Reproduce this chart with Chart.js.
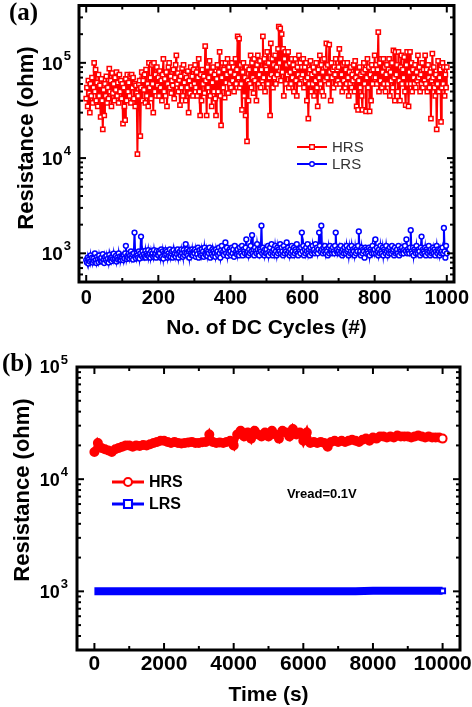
<!DOCTYPE html>
<html>
<head>
<meta charset="utf-8">
<script src="https://cdn.jsdelivr.net/npm/chart.js@4"></script>
<style>
body { margin: 0; background: #fff; }
.panel { position: absolute; left: 0; width: 472px; }
</style>
</head>
<body>
<div class="panel" style="top:0;height:340px"><canvas id="chartA" width="472" height="340"></canvas></div>
<div class="panel" style="top:340px;height:367px"><canvas id="chartB" width="472" height="367"></canvas></div>
<script>
// (a) DC cycling, one reading every 2 cycles
var cycleStep = 2;
// HRS in kOhm
var hrsCycles = [
  42,55,35,65,48,30,60,45,70,38, 55,100,50,85,40,62,35,75,45,58,
  27,68,40,20,52,28,60,45,72,38, 55,42,87,50,65,35,78,48,60,40,
  70,52,80,45,62,38,75,50,65,42,
  60,23,55,35,25,68,40,75,50,62, 45,72,38,75,55,70,42,60,35,58,
  48,11,45,60,65,17,55,80,40,65, 52,75,38,85,45,60,35,100,55,70,
  42,95,60,30,100,50,75,45,90,58,
  70,45,82,55,65,40,75,110,50,68, 45,80,35,60,90,100,55,72,48,65,
  58,85,42,70,95,120,60,78,50,66, 36,72,55,88,45,95,62,75,40,70,
  55,82,30,65,48,90,58,72,45,85,
  60,95,55,80,45,70,110,50,28,75, 40,85,60,72,48,150,65,28,90,55,
  70,105,45,80,35,62,90,50,75,42, 28,68,95,50,80,130,45,22,70,100,
  55,85,43,100,62,75,110,48,90,60,
  80,55,100,65,90,50,75,110,60,85, 190,70,180,55,95,60,32,80,100,45,
  70,28,90,15,65,40,85,60,120,55, 100,70,48,110,65,85,40,95,120,60,
  75,105,55,85,65,190,70,110,50,90,
  85,130,60,100,70,28,160,75,110,55, 95,70,120,60,90,75,140,240,100,230,
  65,200,80,140,45,110,130,60,95,75, 130,55,100,80,60,110,70,95,50,85,
  110,65,45,90,75,120,60,100,70,90,
  75,110,55,90,65,100,40,70,26,60, 85,105,50,75,60,90,45,80,65,100,
  55,35,85,70,120,60,95,50,80,45, 110,65,90,160,70,95,60,155,80,40,
  100,70,85,55,90,75,110,60,85,65,
  90,140,60,110,75,50,95,65,100,55, 85,60,100,70,45,80,60,90,55,75,
  65,95,50,105,70,35,80,32,65,90, 55,75,45,32,80,100,60,85,31,70,
  110,55,90,31,75,40,95,60,85,70,
  120,70,95,60,85,210,50,100,65,110, 55,80,110,60,90,50,75,95,60,85,
  110,45,80,65,100,55,135,70,40,130, 75,95,50,130,65,40,90,120,60,85,
  70,115,50,36,95,130,60,35,80,130,
  60,100,50,85,70,60,95,55,80,65, 120,70,90,50,75,60,100,55,85,65,
  120,60,85,50,95,70,55,80,26,65, 125,70,90,55,45,75,20,60,105,50,
  70,85,24,55,100,60,90,45,75,55,90
];
// LRS in ohm
var lrsCycles = [
  850,800,900,780,870,820,950,840,900,800, 880,830,1000,850,790,920,860,810,950,870,
  830,900,820,980,860,790,910,850,940,820, 880,800,960,860,900,830,920,870,990,850,
  880,940,820,900,860,1000,870,930,850,910,
  900,850,960,880,1000,1200,870,940,900,1000, 880,950,1050,900,980,860,1000,1650,920,880,
  1000,950,900,1050,880,1000,1500,940,1050,900, 980,920,1060,900,1000,950,1080,930,1000,900,
  1050,960,1000,920,1080,950,1000,900,1060,970,
  950,1050,1000,900,1100,920,1050,880,1000,960, 1080,980,1050,900,1000,940,1100,920,1000,1050,
  900,1080,960,1000,920,1050,980,1100,900,1000, 1050,950,1100,1000,920,1080,960,1020,1250,1000,
  1100,950,1050,900,1080,1000,960,1100,950,1050,
  1000,1100,920,1050,980,1150,900,1080,1000,950, 1100,980,1050,920,1150,1000,960,1080,940,1050,
  1000,1150,900,1050,980,1100,940,1060,1000,920, 1100,1000,1050,950,1150,1000,900,1080,1200,1000,
  1050,960,1100,1300,1000,1150,940,1050,1000,1100,
  1050,950,1150,1000,1100,920,1200,1000,1050,980, 1100,1000,950,1150,1050,1000,1200,950,1100,1050,
  1000,1150,1400,1000,1050,950,1100,1000,1200,1050, 1550,1000,1100,950,1150,1050,1000,1250,1100,1000,
  950,1100,1050,1950,1000,1150,1050,950,1100,1000,
  1100,1000,1200,950,1050,1150,1000,1250,1050,950, 1100,1000,1200,1050,950,1150,1000,1100,1050,1250,
  1000,1150,1050,950,1200,1000,1100,1050,1300,1000, 1150,1050,950,1100,1000,1200,1050,950,1150,1000,
  1100,1050,1250,1000,950,1100,1050,1000,1150,1650,
  1050,1200,950,1100,1000,1150,1050,1250,1000,1100, 950,1150,1050,1000,1200,1050,1100,1000,1250,1050,
  1150,1000,1100,1650,1200,1050,1950,1100,1000,1150, 1050,1200,1000,1100,1050,950,1150,1000,1200,1050,
  1100,1000,1150,1050,1000,1200,1650,1050,1100,1000,
  1050,1150,1000,1200,1050,950,1100,1000,1150,1050, 1000,1200,1050,1100,950,1150,1000,1050,1200,1000,
  1100,1050,950,1150,1000,1100,1050,1200,1700,1000, 1050,950,1150,1000,1100,1050,900,1150,1000,1100,
  1050,1000,1150,950,1100,1050,1000,1200,1050,1000,
  1100,1400,1000,1150,1050,950,1100,1000,1200,1050, 1000,1150,950,1100,1050,1000,1200,1050,950,1100,
  1000,1150,1050,1000,1200,1050,1100,950,1150,1000, 1050,1100,1000,1200,950,1100,1050,1000,1150,1050,
  1000,1100,1200,1050,1400,1000,1100,1050,1000,1150,
  1750,1050,1000,1150,950,1100,1050,1000,1200,1050, 1000,1100,1050,950,1150,1500,1000,1100,1050,1000,
  1150,950,1100,1050,1000,1200,1050,950,1100,1000, 1050,1150,1000,1100,950,1050,1200,1000,1100,1050,
  950,1100,1000,1050,1150,1000,1850,1050,900,1200,1000
];

// (b) retention at Vread = 0.1 V
var hrsStep = 100;   // s
var hrsTime = [      // kOhm
  17.5,21,19,18.5,18,17.5,18.5,19,19.5,20,
  20,19.5,20,19.8,20.2,20,20.5,21,21.5,22,
  22,21.5,21,21.5,21,20.8,21,21.2,21.5,21,
  21,21.3,21.5,25,21.5,21,21.2,21,21.5,22,
  20,25,27,24,26,23,27,25,24,26,
  24,27,25,23,27,26,24,28,25,26,
  22,26,21,21.5,21,21.5,21,19.5,21.5,22,
  21.5,22,21.5,22,22.5,22,21.5,22.5,23,22,
  23.5,23,24,24,23.5,24,23.5,24.5,24,24,
  24,23.5,24,24.5,24,23.5,24,23.5,23.5,23.5,23
];
var lrsStep = 500;   // s
var lrsTime = [      // ohm
  1000,1000,1000,1000,1000,1000,1000,1000,1000,1000,
  1000,1000,1000,1000,1000,1000,1010,1010,1010,1010,1010
];

var cycleTicks = [0, 200, 400, 600, 800, 1000];
var cycleMinor = [100, 300, 500, 700, 900];
var timeTicks = [0, 2000, 4000, 6000, 8000, 10000];
var timeMinor = [1000, 3000, 5000, 7000, 9000];
var decadeTicks = [1e3, 1e4, 1e5];

var FONT = '"Liberation Sans", Arial, sans-serif';

function pts(vals, step, mult) {
  return vals.map(function (v, i) { return { x: i * step, y: v * mult }; });
}

function decorate(chart, c) {
  var ctx = chart.ctx, a = chart.chartArea;
  var xs = chart.scales.x, ys = chart.scales.y;
  ctx.save();
  ctx.strokeStyle = '#000';
  ctx.fillStyle = '#000';
  ctx.lineWidth = 3;
  ctx.strokeRect(a.left, a.top, a.right - a.left, a.bottom - a.top);

  ctx.lineWidth = 2;
  function seg(x1, y1, x2, y2) { ctx.beginPath(); ctx.moveTo(x1, y1); ctx.lineTo(x2, y2); ctx.stroke(); }
  function xTick(v, len) {
    var px = xs.getPixelForValue(v);
    seg(px, a.bottom, px, a.bottom - len);
    seg(px, a.top, px, a.top + len);
  }
  function yTick(v, len) {
    var py = ys.getPixelForValue(v);
    seg(a.left, py, a.left + len, py);
    seg(a.right, py, a.right - len, py);
  }
  c.xMajor.forEach(function (v) { xTick(v, 7); });
  c.xMinor.forEach(function (v) { xTick(v, 4); });
  for (var d = 2; d <= 5; d++) {
    for (var m = 1; m <= 9; m++) {
      var v = m * Math.pow(10, d);
      if (v > ys.min && v < ys.max) yTick(v, m === 1 ? 7 : 4);
    }
  }

  // x tick labels
  ctx.font = 'bold ' + c.xLabelSize + 'px ' + FONT;
  ctx.textAlign = 'center';
  ctx.textBaseline = 'middle';
  c.xMajor.forEach(function (v) {
    ctx.fillText(String(v), xs.getPixelForValue(v), c.xLabelY);
  });

  // y tick labels 10^n
  decadeTicks.forEach(function (v) {
    if (v < ys.min || v > ys.max) return;
    var py = ys.getPixelForValue(v);
    var exp = String(Math.round(Math.log10(v)));
    ctx.font = 'bold ' + c.yLabelSize + 'px ' + FONT;
    var w1 = ctx.measureText('10').width;
    ctx.font = 'bold ' + c.supSize + 'px ' + FONT;
    var w2 = ctx.measureText(exp).width;
    var x0 = c.yLabelRight - w1 - w2 - 1;
    ctx.textAlign = 'left';
    ctx.textBaseline = 'alphabetic';
    ctx.font = 'bold ' + c.yLabelSize + 'px ' + FONT;
    ctx.fillText('10', x0, py + c.yLabelSize * 0.36);
    ctx.font = 'bold ' + c.supSize + 'px ' + FONT;
    ctx.fillText(exp, x0 + w1 + 1, py - 3);
  });

  // axis titles
  ctx.textAlign = 'center';
  ctx.textBaseline = 'middle';
  ctx.font = 'bold ' + c.xTitleSize + 'px ' + FONT;
  ctx.fillText(c.xTitle, (a.left + a.right) / 2, c.xTitleY);
  ctx.save();
  ctx.translate(c.yTitleX, c.yTitleY);
  ctx.rotate(-Math.PI / 2);
  ctx.font = 'bold ' + c.yTitleSize + 'px ' + FONT;
  ctx.fillText(c.yTitle, 0, 0);
  ctx.restore();

  // panel letter
  ctx.textAlign = 'left';
  ctx.font = 'bold ' + c.letterSize + 'px "Liberation Serif", "Times New Roman", serif';
  ctx.fillText(c.letter, c.letterX, c.letterY);

  c.legend(ctx);
  ctx.restore();
}

function legendRow(ctx, x1, x2, y, color, lw, style, r, label, font, textColor) {
  ctx.strokeStyle = color;
  ctx.lineWidth = lw;
  ctx.beginPath(); ctx.moveTo(x1, y); ctx.lineTo(x2, y); ctx.stroke();
  var cx = (x1 + x2) / 2;
  ctx.fillStyle = '#fff';
  ctx.lineWidth = Math.max(1.2, lw * 0.7);
  ctx.beginPath();
  if (style === 'rect') ctx.rect(cx - r, y - r, 2 * r, 2 * r);
  else ctx.arc(cx, y, r, 0, Math.PI * 2);
  ctx.fill(); ctx.stroke();
  ctx.fillStyle = textColor;
  ctx.font = font;
  ctx.textAlign = 'left';
  ctx.textBaseline = 'middle';
  ctx.fillText(label, x2 + 5, y + 1);
}

function makeChart(id, datasets, xRange, yRange, box, c) {
  return new Chart(document.getElementById(id), {
    type: 'line',
    data: { datasets: datasets },
    options: {
      responsive: false,
      animation: false,
      layout: { padding: { top: box.top, right: box.right, left: 0, bottom: 0 } },
      plugins: { legend: { display: false }, tooltip: { enabled: false } },
      scales: {
        x: {
          type: 'linear', min: xRange[0], max: xRange[1],
          grid: { display: false }, border: { display: false }, ticks: { display: false },
          afterFit: function (s) { s.height = box.xHeight; }
        },
        y: {
          type: 'logarithmic', min: yRange[0], max: yRange[1],
          grid: { display: false }, border: { display: false }, ticks: { display: false },
          afterFit: function (s) { s.width = box.yWidth; }
        }
      }
    },
    plugins: [{ id: 'decor', afterDraw: function (chart) { decorate(chart, c); } }]
  });
}

// panel (a)
makeChart('chartA', [
  {
    label: 'HRS', data: pts(hrsCycles, cycleStep, 1000),
    borderColor: '#ff0000', borderWidth: 2, tension: 0,
    pointStyle: 'rect', pointRadius: 3, pointBorderWidth: 1.5,
    pointBackgroundColor: '#fff', pointBorderColor: '#ff0000'
  },
  {
    label: 'LRS', data: pts(lrsCycles, cycleStep, 1),
    borderColor: '#0000ff', borderWidth: 2, tension: 0,
    pointStyle: 'circle', pointRadius: 2.4, pointBorderWidth: 1.5,
    pointBackgroundColor: '#fff', pointBorderColor: '#0000ff'
  }
], [-20, 1020], [500, 4e5], { top: 5, right: 18, xHeight: 58, yWidth: 79 }, {
  xMajor: cycleTicks, xMinor: cycleMinor, xLabelY: 298, xLabelSize: 20,
  yLabelRight: 71, yLabelSize: 19, supSize: 13,
  xTitle: 'No. of DC Cycles (#)', xTitleY: 328, xTitleSize: 21,
  yTitle: 'Resistance (ohm)', yTitleX: 27, yTitleY: 138, yTitleSize: 22,
  letter: '(a)', letterX: 9, letterY: 14, letterSize: 25,
  legend: function (ctx) {
    var f = '15px ' + FONT;
    legendRow(ctx, 297, 327, 147, '#ff0000', 2, 'rect', 2.3, 'HRS', f, '#333');
    legendRow(ctx, 297, 327, 164, '#0000ff', 2, 'circle', 2.3, 'LRS', f, '#333');
  }
});

// panel (b)
var lastH = hrsTime.length - 1, lastL = lrsTime.length - 1;
makeChart('chartB', [
  {
    label: 'HRS', data: pts(hrsTime, hrsStep, 1000),
    borderColor: '#ff0000', borderWidth: 6, tension: 0,
    pointStyle: 'circle', pointRadius: 4, pointBorderWidth: 2, pointBorderColor: '#ff0000',
    pointBackgroundColor: function (ctx) { return ctx.dataIndex === lastH ? '#fff' : '#ff0000'; }
  },
  {
    label: 'LRS', data: pts(lrsTime, lrsStep, 1),
    borderColor: '#0000ff', borderWidth: 8, tension: 0,
    pointStyle: 'rect', pointBorderWidth: 2, pointBorderColor: '#0000ff', pointBackgroundColor: '#fff',
    pointRadius: function (ctx) { return ctx.dataIndex === lastL ? 3.5 : 0; }
  }
], [-500, 10500], [300, 1e5], { top: 27, right: 12, xHeight: 57, yWidth: 77 }, {
  xMajor: timeTicks, xMinor: timeMinor, xLabelY: 324, xLabelSize: 21,
  yLabelRight: 68, yLabelSize: 18, supSize: 13,
  xTitle: 'Time (s)', xTitleY: 355, xTitleSize: 21,
  yTitle: 'Resistance (ohm)', yTitleX: 23, yTitleY: 150, yTitleSize: 22,
  letter: '(b)', letterX: 2, letterY: 25, letterSize: 25,
  legend: function (ctx) {
    var f = 'bold 16px ' + FONT;
    legendRow(ctx, 112, 144, 142, '#ff0000', 3, 'circle', 4, 'HRS', f, '#000');
    legendRow(ctx, 112, 144, 164, '#0000ff', 3, 'rect', 4, 'LRS', f, '#000');
    ctx.fillStyle = '#000';
    ctx.font = 'bold 13px ' + FONT;
    ctx.textAlign = 'left';
    ctx.textBaseline = 'middle';
    ctx.fillText('Vread=0.1V', 287, 154);
  }
});
</script>
</body>
</html>
